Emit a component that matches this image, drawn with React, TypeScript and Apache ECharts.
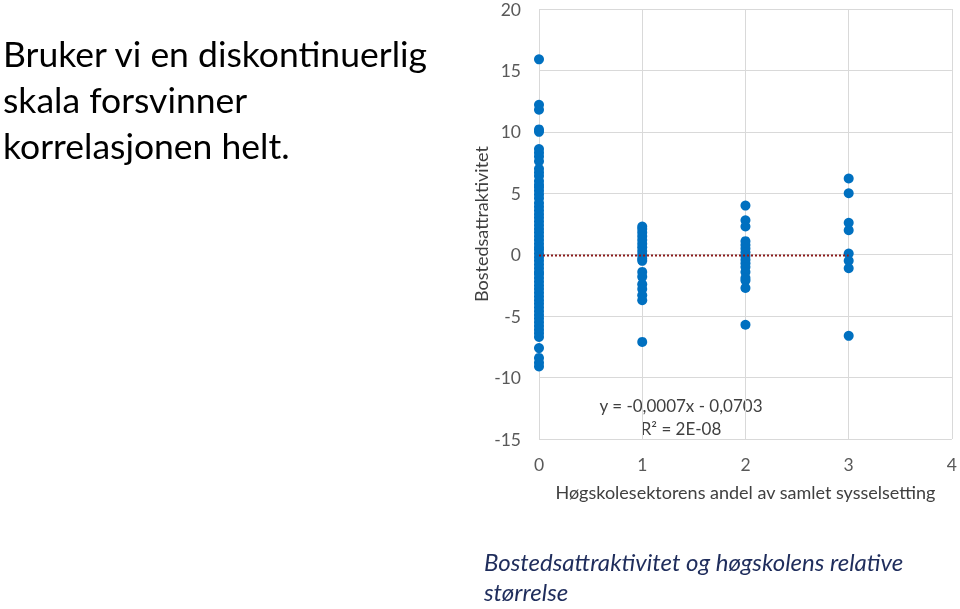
import React, { useEffect, useRef } from "react";
import * as echarts from "echarts";

const xTicks = [0, 1, 2, 3, 4];
const yTicks = [-15, -10, -5, 0, 5, 10, 15, 20];

const valuesAt0 = [15.9, 12.2, 11.8, 10.2, 10.0, 8.6, 8.3, 8.0, 7.6, 7.0, 6.7, 6.4, 6.0, 5.7, 5.5, 5.2, 4.9, 4.6, 4.2, 3.9, 3.6, 3.3, 3.0, 2.7, 2.4, 2.1, 1.8, 1.5, 1.2, 0.9, 0.6, 0.4, 0.1, -0.2, -0.5, -0.8, -1.1, -1.4, -1.6, -1.9, -2.2, -2.5, -2.8, -3.1, -3.4, -3.7, -4.0, -4.3, -4.6, -4.9, -5.2, -5.5, -5.8, -6.1, -6.4, -6.7, -7.6, -8.4, -8.8, -9.1];
const valuesAt1 = [2.3, 2.1, 1.8, 1.5, 1.2, 0.9, 0.6, 0.3, 0.0, -0.3, -0.5, -1.4, -1.8, -2.4, -2.8, -3.3, -3.7, -7.1];
const valuesAt2 = [4.0, 2.8, 2.3, 1.1, 0.8, 0.5, 0.2, -0.1, -0.4, -0.7, -1.0, -1.4, -1.9, -2.1, -2.7, -5.7];
const valuesAt3 = [6.2, 5.0, 2.6, 2.0, 0.1, -0.5, -1.1, -6.6];

const trendSlope = -0.0007;
const trendIntercept = -0.0703;
const trendRange = [0, 3];

const titleLines = ["Bruker vi en diskontinuerlig", "skala forsvinner", "korrelasjonen helt."];
const captionLines = ["Bostedsattraktivitet og høgskolens relative", "størrelse"];
const equationLines = ["y = -0,0007x - 0,0703", "R² = 2E-08"];

const FONT = "Lato, 'Open Sans', sans-serif";

export default function App() {
  const ref = useRef<HTMLDivElement>(null);
  useEffect(() => {
    const chart = echarts.init(ref.current!, undefined, { renderer: "svg" });
    const scatterData: number[][] = [];
    [valuesAt0, valuesAt1, valuesAt2, valuesAt3].forEach((arr, i) => {
      arr.forEach((v) => scatterData.push([xTicks[i], v]));
    });
    const trendData = trendRange.map((x) => [x, trendSlope * x + trendIntercept]);
    chart.setOption({
      animation: false,
      textStyle: { fontFamily: FONT },
      grid: { left: 539, right: 5, top: 7, bottom: 170 },
      xAxis: {
        type: "value",
        min: xTicks[0],
        max: xTicks[xTicks.length - 1],
        interval: 1,
        name: "Høgskolesektorens andel av samlet sysselsetting",
        nameLocation: "middle",
        nameGap: 44,
        nameTextStyle: { color: "#404040", fontSize: 18, fontFamily: FONT },
        axisLine: { show: false },
        axisTick: { show: false },
        axisLabel: { color: "#595959", fontSize: 17.5, margin: 16, fontFamily: FONT },
        splitLine: { show: true, lineStyle: { color: "#d9d9d9", width: 1 } },
      },
      yAxis: {
        type: "value",
        min: yTicks[0],
        max: yTicks[yTicks.length - 1],
        interval: 5,
        name: "Bostedsattraktivitet",
        nameLocation: "middle",
        nameGap: 49,
        nameTextStyle: { color: "#404040", fontSize: 18, fontFamily: FONT },
        axisLine: { show: false },
        axisTick: { show: false },
        axisLabel: { color: "#595959", fontSize: 17.5, margin: 18, fontFamily: FONT },
        splitLine: { show: true, lineStyle: { color: "#d9d9d9", width: 1 } },
      },
      series: [
        {
          type: "scatter",
          data: scatterData,
          symbol: "circle",
          symbolSize: 10,
          itemStyle: { color: "#0070c0", opacity: 1 },
          z: 2,
        },
        {
          type: "line",
          data: trendData,
          showSymbol: false,
          symbol: "none",
          lineStyle: { color: "#8b1c1c", width: 2, type: [2, 2] },
          z: 3,
        },
      ],
      graphic: [
        ...titleLines.map((t, i) => ({
          type: "text",
          left: 3,
          top: 35 + i * 46,
          style: { text: t, fill: "#000000", font: `35.5px ${FONT}` },
        })),
        ...captionLines.map((t, i) => ({
          type: "text",
          left: 484,
          top: 549 + i * 30,
          style: { text: t, fill: "#1f2d5c", font: `italic 24px ${FONT}` },
        })),
        ...equationLines.map((t, i) => ({
          type: "text",
          x: 681,
          y: 405 + i * 23,
          style: { text: t, fill: "#404040", font: `17px ${FONT}`, align: "center", verticalAlign: "middle" },
        })),
      ],
    });
    return () => chart.dispose();
  }, []);
  return <div ref={ref} style={{ position: "fixed", left: 0, top: 0, width: 960, height: 609 }} />;
}
